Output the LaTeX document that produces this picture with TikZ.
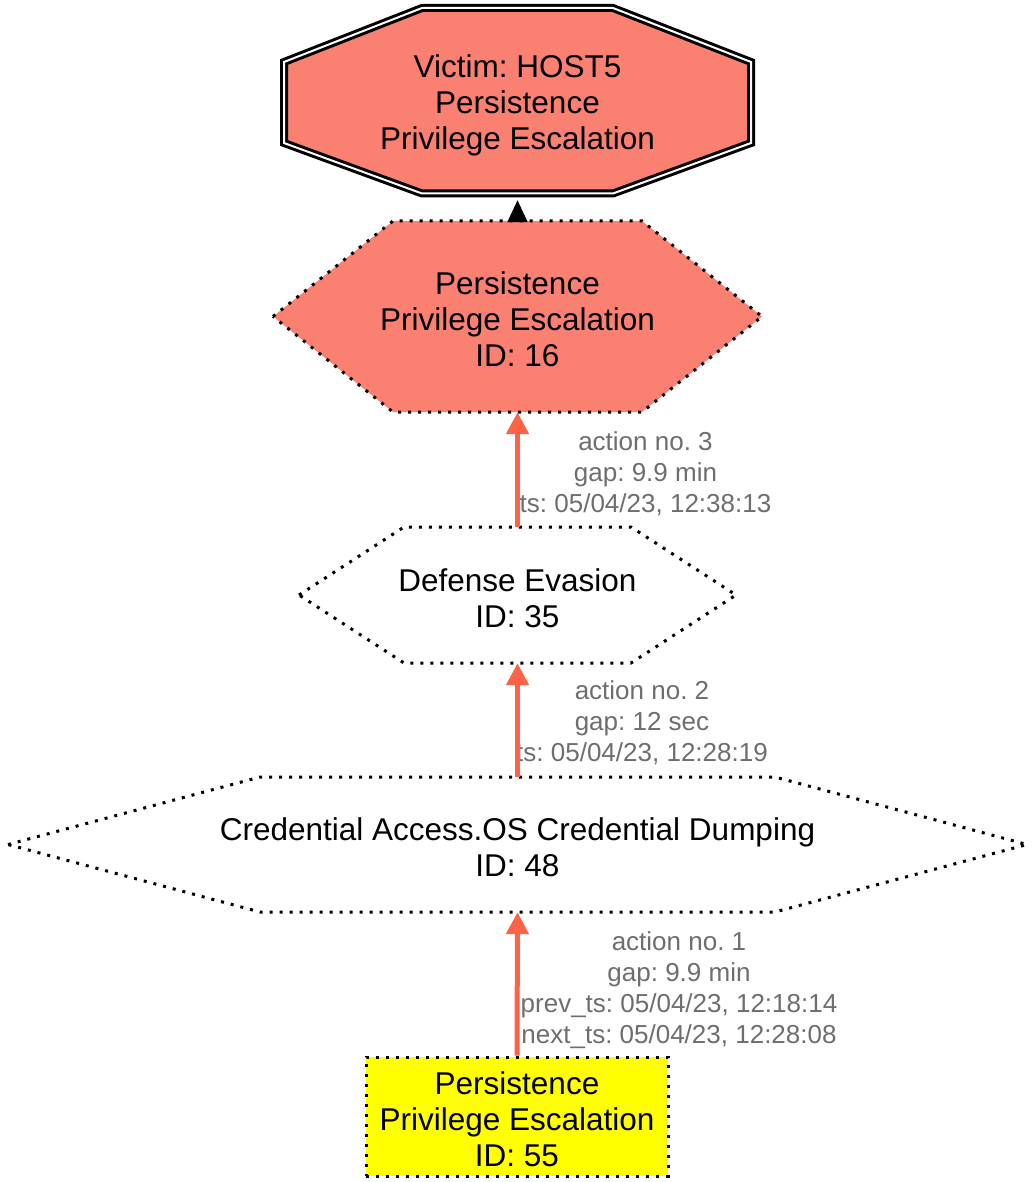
\documentclass[tikz,border=0pt]{standalone}
\usepackage{fontspec}
\setmainfont{Liberation Sans}
\usetikzlibrary{arrows.meta}
\definecolor{salmonc}{HTML}{FA8072}
\definecolor{tomatoc}{HTML}{FF6347}
\definecolor{labelgray}{HTML}{6E6E6E}
\definecolor{yellowc}{HTML}{FFFF00}
\newcommand\mytopstrut{\rule{0pt}{28pt}}
\begin{document}
\frenchspacing
\begin{tikzpicture}[x=1pt,y=-1pt,
  dotline/.style={draw=black, line width=3pt, dash pattern=on 3pt off 7pt},
  nodetext/.style={font=\fontsize{31.5}{36}\selectfont, align=center, inner sep=0pt, text depth=0pt},
  edgelabel/.style={font=\fontsize{26}{30.8}\selectfont, align=center, inner sep=0pt, text depth=0pt, text=labelgray},
  flow/.style={draw=tomatoc, line width=5pt, -{Triangle[width=22pt,length=22pt]}},
  link/.style={draw=black, line width=2pt, -{Triangle[width=20pt,length=22pt]}},
  octo/.style={fill=salmonc, draw=black, line width=3pt, double=white, double distance=2pt},
]
\useasboundingbox (0,0) rectangle (1035,1182);
\fill[white] (0,0) rectangle (1035,1182);

% shapes
\draw[octo] (422,8) -- (613,8) -- (751,62) -- (751,143) -- (613,193.5) -- (422,193.5) -- (284,143) -- (284,62) -- cycle;
\draw[dotline, fill=salmonc] (273,316.5) -- (393,221) -- (642,221) -- (762,316.5) -- (642,412) -- (393,412) -- cycle;
\draw[dotline] (299,595) -- (404,527) -- (631,527) -- (736,595) -- (631,663) -- (404,663) -- cycle;
\draw[dotline] (8,844.5) -- (260,777) -- (775,777) -- (1027,844.5) -- (775,912) -- (260,912) -- cycle;

% nodes
\node[nodetext, minimum height=195pt] (victim) at (517.5,102.5) {Victim: HOST5\\Persistence\\Privilege Escalation};
\node[nodetext, minimum height=191pt] (p16) at (517.5,316.5) {\mytopstrut Persistence\\Privilege Escalation\\ID: 16};
\node[nodetext, minimum height=136pt] (d35) at (517.5,595) {\mytopstrut Defense Evasion\\ID: 35};
\node[nodetext, minimum height=135pt] (c48) at (517.5,844.5) {\mytopstrut Credential Access.OS Credential Dumping\\ID: 48};
\node[nodetext, dotline, fill=yellowc, minimum width=302pt, minimum height=119pt] (p55) at (517,1116.5) {\mytopstrut Persistence\\Privilege Escalation\\ID: 55};

% edge labels
\node[edgelabel] (l3) at (645.5,472) {action no. 3\\gap: 9.9 min\\ts: 05/04/23, 12:38:13};
\node[edgelabel] (l2) at (642,721) {action no. 2\\gap: 12 sec\\ts: 05/04/23, 12:28:19};
\node[edgelabel] (l1) at (679,987.5) {action no. 1\\gap: 9.9 min\\prev\_ts: 05/04/23, 12:18:14\\next\_ts: 05/04/23, 12:28:08};

% edges
\draw[link] (p16.north) -- (victim.south);
\draw[flow] (d35.north) -- (p16.south);
\draw[flow] (c48.north) -- (d35.south);
\draw[flow] (p55.north) -- (c48.south);
\end{tikzpicture}
\end{document}
